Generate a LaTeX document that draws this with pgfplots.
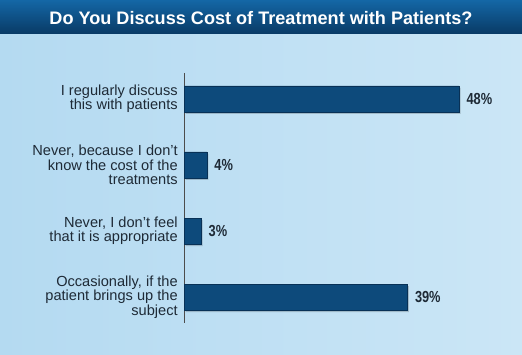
\documentclass[border=0pt]{standalone}
\usepackage{pgfplots}
\pgfplotsset{compat=1.18}
\usepackage{fontspec}
\setmainfont{Liberation Sans}
\newfontfamily\titlefont{Liberation Sans}[Ligatures=TeX]
\newfontfamily\labfont{Liberation Sans}[Ligatures=TeX]
\newfontfamily\valfont{Liberation Sans}[FakeStretch=0.8]
\definecolor{bgL}{HTML}{B4DAF1}
\definecolor{bgM}{HTML}{EEF7FC}
\definecolor{bgR}{HTML}{CBE6F6}
\definecolor{banT}{HTML}{1467A6}
\definecolor{banB}{HTML}{093A65}
\definecolor{barF}{HTML}{0D4A7B}
\definecolor{barD}{HTML}{083156}
\definecolor{txt}{HTML}{1E2A36}
\begin{document}
\begin{tikzpicture}[x=1pt,y=1pt]
\useasboundingbox (0,0) rectangle (522,355);
\shade[left color=bgL, middle color=bgM, right color=bgR] (0,0) rectangle (522,355);
\shade[top color=banT, bottom color=banB] (0,321) rectangle (522,355);
\node[text=white, font=\titlefont\fontsize{18.1}{20}\selectfont\bfseries] at (261,337) {Do You Discuss Cost of Treatment with Patients?};
\pgfplotstableread{
y val
0 48
1 4
2 3
3 39
}\datatable
\begin{axis}[
  at={(184pt,32pt)}, anchor=south west, scale only axis,
  width=286.5pt, height=250pt,
  xmin=0, xmax=50, ymin=-0.39, ymax=3.39, y dir=reverse,
  axis x line=none, axis y line=left,
  y axis line style={-, draw=gray!60!black, line width=0.8pt},
  ytick={0,1,2,3}, ytick style={draw=none},
  yticklabels={{I regularly discuss\\this with patients},{Never, because I don’t\\know the cost of the\\treatments},{Never, I don’t feel\\that it is appropriate},{Occasionally, if the\\patient brings up the\\subject}},
  every y tick label/.append style={align=right, font=\labfont\fontsize{14.6}{14.2}\selectfont, text=txt, xshift=1.5pt},
  xbar, bar width=26pt, bar shift=0pt,
  clip=false,
  /pgf/number format/assume math mode=true,
]
\addplot[xbar, draw=none, fill=black, fill opacity=0.18, xshift=1.5pt, yshift=-2pt] table[x=val,y=y]{\datatable};
\addplot[xbar, draw=barD, line width=0.4pt, fill=barF,
  nodes near coords={\pgfmathprintnumber{\pgfplotspointmeta}\%},
  nodes near coords align={horizontal},
  every node near coord/.append style={font=\valfont\fontsize{16}{16}\selectfont\bfseries, text=txt, xshift=4pt}
] table[x=val,y=y]{\datatable};
\end{axis}
\end{tikzpicture}
\end{document}
